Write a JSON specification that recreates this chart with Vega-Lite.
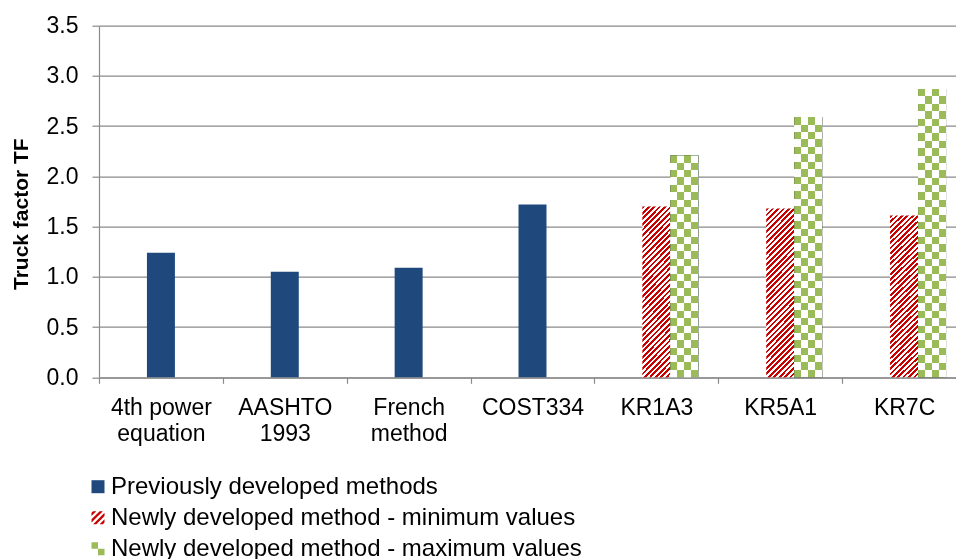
{
  "$schema": "https://vega.github.io/schema/vega-lite/v6.json",
  "width": 857,
  "height": 351.6,
  "autosize": "none",
  "padding": {"left": 99, "top": 25.7, "right": 0, "bottom": 181.7},
  "background": "white",
  "config": {
    "font": "Liberation Sans",
    "view": {"stroke": null},
    "axis": {"labelColor": "#000000", "titleColor": "#000000", "domainColor": "#8a8a8a", "tickColor": "#8a8a8a", "gridColor": "#8a8a8a", "gridWidth": 1.2, "domainWidth": 1.2, "tickWidth": 1.2},
    "legend": {
      "title": null,
      "orient": "none",
      "legendX": -13,
      "legendY": 449,
      "direction": "vertical",
      "padding": 0,
      "symbolSize": 169,
      "symbolOpacity": 1,
      "symbolStrokeWidth": 0,
      "labelFontSize": 24,
      "labelColor": "#000000",
      "labelOffset": 1,
      "labelLimit": 700,
      "rowPadding": 7
    }
  },
  "datasets": {
    "tf": [
      {"category": "4th power equation", "series": "Previously developed methods", "value": 1.24},
      {"category": "AASHTO 1993", "series": "Previously developed methods", "value": 1.05},
      {"category": "French method", "series": "Previously developed methods", "value": 1.09},
      {"category": "COST334", "series": "Previously developed methods", "value": 1.72},
      {"category": "KR1A3", "series": "Newly developed method - minimum values", "value": 1.70},
      {"category": "KR1A3", "series": "Newly developed method - maximum values", "value": 2.21},
      {"category": "KR5A1", "series": "Newly developed method - minimum values", "value": 1.68},
      {"category": "KR5A1", "series": "Newly developed method - maximum values", "value": 2.59},
      {"category": "KR7C", "series": "Newly developed method - minimum values", "value": 1.61},
      {"category": "KR7C", "series": "Newly developed method - maximum values", "value": 2.87}
    ]
  },
  "data": {"name": "tf"},
  "encoding": {
    "x": {
      "field": "category",
      "type": "nominal",
      "sort": null,
      "scale": {
        "domain": ["4th power equation", "AASHTO 1993", "French method", "COST334", "KR1A3", "KR5A1", "KR7C"],
        "range": [0, 867],
        "paddingInner": 0,
        "paddingOuter": 0
      },
      "axis": {
        "title": null,
        "labelAngle": 0,
        "labelFontSize": 23,
        "labelLineHeight": 26,
        "labelPadding": 13,
        "tickBand": "extent",
        "tickSize": 6,
        "grid": false,
        "labelExpr": "datum.label === '4th power equation' ? ['4th power', 'equation'] : datum.label === 'AASHTO 1993' ? ['AASHTO', '1993'] : datum.label === 'French method' ? ['French', 'method'] : datum.label"
      }
    },
    "y": {
      "field": "value",
      "type": "quantitative",
      "scale": {"domain": [0, 3.5], "nice": false},
      "axis": {
        "title": "Truck factor TF",
        "titleFontSize": 21,
        "titleFontWeight": "bold",
        "titlePadding": 15,
        "titleY": 188,
        "values": [0, 0.5, 1, 1.5, 2, 2.5, 3, 3.5],
        "format": ".1f",
        "labelFontSize": 23,
        "labelPadding": 14,
        "tickSize": 7,
        "grid": true
      }
    }
  },
  "layer": [
    {
      "transform": [{"filter": "datum.series === 'Previously developed methods'"}],
      "mark": {"type": "bar", "width": {"band": 0.226}},
      "encoding": {
        "color": {
          "field": "series",
          "type": "nominal",
          "scale": {
            "domain": ["Previously developed methods", "Newly developed method - minimum values", "Newly developed method - maximum values"],
            "range": ["#1F497D", "#C80000", "#9BBB59"]
          }
        }
      }
    },
    {
      "transform": [{"filter": "datum.series === 'Newly developed method - minimum values'"}],
      "mark": {
        "type": "bar",
        "width": {"band": 0.226},
        "fill": {
          "gradient": "linear", "x1": 0, "y1": 0, "x2": 0.19, "y2": 1.136,
          "stops": [
            {"offset": 0, "color": "#C80000"},
            {"offset": 0.0139, "color": "#C80000"}, {"offset": 0.0139, "color": "#FFFFFF"},
            {"offset": 0.0278, "color": "#FFFFFF"}, {"offset": 0.0278, "color": "#C80000"},
            {"offset": 0.0417, "color": "#C80000"}, {"offset": 0.0417, "color": "#FFFFFF"},
            {"offset": 0.0556, "color": "#FFFFFF"}, {"offset": 0.0556, "color": "#C80000"},
            {"offset": 0.0694, "color": "#C80000"}, {"offset": 0.0694, "color": "#FFFFFF"},
            {"offset": 0.0833, "color": "#FFFFFF"}, {"offset": 0.0833, "color": "#C80000"},
            {"offset": 0.0972, "color": "#C80000"}, {"offset": 0.0972, "color": "#FFFFFF"},
            {"offset": 0.1111, "color": "#FFFFFF"}, {"offset": 0.1111, "color": "#C80000"},
            {"offset": 0.125, "color": "#C80000"}, {"offset": 0.125, "color": "#FFFFFF"},
            {"offset": 0.1389, "color": "#FFFFFF"}, {"offset": 0.1389, "color": "#C80000"},
            {"offset": 0.1528, "color": "#C80000"}, {"offset": 0.1528, "color": "#FFFFFF"},
            {"offset": 0.1667, "color": "#FFFFFF"}, {"offset": 0.1667, "color": "#C80000"},
            {"offset": 0.1806, "color": "#C80000"}, {"offset": 0.1806, "color": "#FFFFFF"},
            {"offset": 0.1944, "color": "#FFFFFF"}, {"offset": 0.1944, "color": "#C80000"},
            {"offset": 0.2083, "color": "#C80000"}, {"offset": 0.2083, "color": "#FFFFFF"},
            {"offset": 0.2222, "color": "#FFFFFF"}, {"offset": 0.2222, "color": "#C80000"},
            {"offset": 0.2361, "color": "#C80000"}, {"offset": 0.2361, "color": "#FFFFFF"},
            {"offset": 0.25, "color": "#FFFFFF"}, {"offset": 0.25, "color": "#C80000"},
            {"offset": 0.2639, "color": "#C80000"}, {"offset": 0.2639, "color": "#FFFFFF"},
            {"offset": 0.2778, "color": "#FFFFFF"}, {"offset": 0.2778, "color": "#C80000"},
            {"offset": 0.2917, "color": "#C80000"}, {"offset": 0.2917, "color": "#FFFFFF"},
            {"offset": 0.3056, "color": "#FFFFFF"}, {"offset": 0.3056, "color": "#C80000"},
            {"offset": 0.3194, "color": "#C80000"}, {"offset": 0.3194, "color": "#FFFFFF"},
            {"offset": 0.3333, "color": "#FFFFFF"}, {"offset": 0.3333, "color": "#C80000"},
            {"offset": 0.3472, "color": "#C80000"}, {"offset": 0.3472, "color": "#FFFFFF"},
            {"offset": 0.3611, "color": "#FFFFFF"}, {"offset": 0.3611, "color": "#C80000"},
            {"offset": 0.375, "color": "#C80000"}, {"offset": 0.375, "color": "#FFFFFF"},
            {"offset": 0.3889, "color": "#FFFFFF"}, {"offset": 0.3889, "color": "#C80000"},
            {"offset": 0.4028, "color": "#C80000"}, {"offset": 0.4028, "color": "#FFFFFF"},
            {"offset": 0.4167, "color": "#FFFFFF"}, {"offset": 0.4167, "color": "#C80000"},
            {"offset": 0.4306, "color": "#C80000"}, {"offset": 0.4306, "color": "#FFFFFF"},
            {"offset": 0.4444, "color": "#FFFFFF"}, {"offset": 0.4444, "color": "#C80000"},
            {"offset": 0.4583, "color": "#C80000"}, {"offset": 0.4583, "color": "#FFFFFF"},
            {"offset": 0.4722, "color": "#FFFFFF"}, {"offset": 0.4722, "color": "#C80000"},
            {"offset": 0.4861, "color": "#C80000"}, {"offset": 0.4861, "color": "#FFFFFF"},
            {"offset": 0.5, "color": "#FFFFFF"}, {"offset": 0.5, "color": "#C80000"},
            {"offset": 0.5139, "color": "#C80000"}, {"offset": 0.5139, "color": "#FFFFFF"},
            {"offset": 0.5278, "color": "#FFFFFF"}, {"offset": 0.5278, "color": "#C80000"},
            {"offset": 0.5417, "color": "#C80000"}, {"offset": 0.5417, "color": "#FFFFFF"},
            {"offset": 0.5556, "color": "#FFFFFF"}, {"offset": 0.5556, "color": "#C80000"},
            {"offset": 0.5694, "color": "#C80000"}, {"offset": 0.5694, "color": "#FFFFFF"},
            {"offset": 0.5833, "color": "#FFFFFF"}, {"offset": 0.5833, "color": "#C80000"},
            {"offset": 0.5972, "color": "#C80000"}, {"offset": 0.5972, "color": "#FFFFFF"},
            {"offset": 0.6111, "color": "#FFFFFF"}, {"offset": 0.6111, "color": "#C80000"},
            {"offset": 0.625, "color": "#C80000"}, {"offset": 0.625, "color": "#FFFFFF"},
            {"offset": 0.6389, "color": "#FFFFFF"}, {"offset": 0.6389, "color": "#C80000"},
            {"offset": 0.6528, "color": "#C80000"}, {"offset": 0.6528, "color": "#FFFFFF"},
            {"offset": 0.6667, "color": "#FFFFFF"}, {"offset": 0.6667, "color": "#C80000"},
            {"offset": 0.6806, "color": "#C80000"}, {"offset": 0.6806, "color": "#FFFFFF"},
            {"offset": 0.6944, "color": "#FFFFFF"}, {"offset": 0.6944, "color": "#C80000"},
            {"offset": 0.7083, "color": "#C80000"}, {"offset": 0.7083, "color": "#FFFFFF"},
            {"offset": 0.7222, "color": "#FFFFFF"}, {"offset": 0.7222, "color": "#C80000"},
            {"offset": 0.7361, "color": "#C80000"}, {"offset": 0.7361, "color": "#FFFFFF"},
            {"offset": 0.75, "color": "#FFFFFF"}, {"offset": 0.75, "color": "#C80000"},
            {"offset": 0.7639, "color": "#C80000"}, {"offset": 0.7639, "color": "#FFFFFF"},
            {"offset": 0.7778, "color": "#FFFFFF"}, {"offset": 0.7778, "color": "#C80000"},
            {"offset": 0.7917, "color": "#C80000"}, {"offset": 0.7917, "color": "#FFFFFF"},
            {"offset": 0.8056, "color": "#FFFFFF"}, {"offset": 0.8056, "color": "#C80000"},
            {"offset": 0.8194, "color": "#C80000"}, {"offset": 0.8194, "color": "#FFFFFF"},
            {"offset": 0.8333, "color": "#FFFFFF"}, {"offset": 0.8333, "color": "#C80000"},
            {"offset": 0.8472, "color": "#C80000"}, {"offset": 0.8472, "color": "#FFFFFF"},
            {"offset": 0.8611, "color": "#FFFFFF"}, {"offset": 0.8611, "color": "#C80000"},
            {"offset": 0.875, "color": "#C80000"}, {"offset": 0.875, "color": "#FFFFFF"},
            {"offset": 0.8889, "color": "#FFFFFF"}, {"offset": 0.8889, "color": "#C80000"},
            {"offset": 0.9028, "color": "#C80000"}, {"offset": 0.9028, "color": "#FFFFFF"},
            {"offset": 0.9167, "color": "#FFFFFF"}, {"offset": 0.9167, "color": "#C80000"},
            {"offset": 0.9306, "color": "#C80000"}, {"offset": 0.9306, "color": "#FFFFFF"},
            {"offset": 0.9444, "color": "#FFFFFF"}, {"offset": 0.9444, "color": "#C80000"},
            {"offset": 0.9583, "color": "#C80000"}, {"offset": 0.9583, "color": "#FFFFFF"},
            {"offset": 0.9722, "color": "#FFFFFF"}, {"offset": 0.9722, "color": "#C80000"},
            {"offset": 0.9861, "color": "#C80000"}, {"offset": 0.9861, "color": "#FFFFFF"},
            {"offset": 1, "color": "#FFFFFF"}
          ]
        }
      }
    },
    {
      "transform": [{"filter": "datum.category === 'KR1A3' && datum.series === 'Newly developed method - maximum values'"}],
      "mark": {
        "type": "bar",
        "fill": {
          "gradient": "linear", "x1": 0, "y1": 0, "x2": 0, "y2": 1,
          "stops": [
            {"offset": 0, "color": "#000000"},
            {"offset": 0.0333, "color": "#000000"}, {"offset": 0.0333, "color": "#FFFFFF"},
            {"offset": 0.0667, "color": "#FFFFFF"}, {"offset": 0.0667, "color": "#000000"},
            {"offset": 0.1, "color": "#000000"}, {"offset": 0.1, "color": "#FFFFFF"},
            {"offset": 0.1333, "color": "#FFFFFF"}, {"offset": 0.1333, "color": "#000000"},
            {"offset": 0.1667, "color": "#000000"}, {"offset": 0.1667, "color": "#FFFFFF"},
            {"offset": 0.2, "color": "#FFFFFF"}, {"offset": 0.2, "color": "#000000"},
            {"offset": 0.2333, "color": "#000000"}, {"offset": 0.2333, "color": "#FFFFFF"},
            {"offset": 0.2667, "color": "#FFFFFF"}, {"offset": 0.2667, "color": "#000000"},
            {"offset": 0.3, "color": "#000000"}, {"offset": 0.3, "color": "#FFFFFF"},
            {"offset": 0.3333, "color": "#FFFFFF"}, {"offset": 0.3333, "color": "#000000"},
            {"offset": 0.3667, "color": "#000000"}, {"offset": 0.3667, "color": "#FFFFFF"},
            {"offset": 0.4, "color": "#FFFFFF"}, {"offset": 0.4, "color": "#000000"},
            {"offset": 0.4333, "color": "#000000"}, {"offset": 0.4333, "color": "#FFFFFF"},
            {"offset": 0.4667, "color": "#FFFFFF"}, {"offset": 0.4667, "color": "#000000"},
            {"offset": 0.5, "color": "#000000"}, {"offset": 0.5, "color": "#FFFFFF"},
            {"offset": 0.5333, "color": "#FFFFFF"}, {"offset": 0.5333, "color": "#000000"},
            {"offset": 0.5667, "color": "#000000"}, {"offset": 0.5667, "color": "#FFFFFF"},
            {"offset": 0.6, "color": "#FFFFFF"}, {"offset": 0.6, "color": "#000000"},
            {"offset": 0.6333, "color": "#000000"}, {"offset": 0.6333, "color": "#FFFFFF"},
            {"offset": 0.6667, "color": "#FFFFFF"}, {"offset": 0.6667, "color": "#000000"},
            {"offset": 0.7, "color": "#000000"}, {"offset": 0.7, "color": "#FFFFFF"},
            {"offset": 0.7333, "color": "#FFFFFF"}, {"offset": 0.7333, "color": "#000000"},
            {"offset": 0.7667, "color": "#000000"}, {"offset": 0.7667, "color": "#FFFFFF"},
            {"offset": 0.8, "color": "#FFFFFF"}, {"offset": 0.8, "color": "#000000"},
            {"offset": 0.8333, "color": "#000000"}, {"offset": 0.8333, "color": "#FFFFFF"},
            {"offset": 0.8667, "color": "#FFFFFF"}, {"offset": 0.8667, "color": "#000000"},
            {"offset": 0.9, "color": "#000000"}, {"offset": 0.9, "color": "#FFFFFF"},
            {"offset": 0.9333, "color": "#FFFFFF"}, {"offset": 0.9333, "color": "#000000"},
            {"offset": 0.9667, "color": "#000000"}, {"offset": 0.9667, "color": "#FFFFFF"},
            {"offset": 1, "color": "#FFFFFF"}
          ]
        }
      },
      "encoding": {
        "xOffset": {"field": "series", "type": "nominal", "scale": {"domain": ["Newly developed method - maximum values"], "paddingInner": 0.416, "paddingOuter": 1, "align": 0.792}}
      }
    },
    {
      "transform": [{"filter": "datum.category === 'KR5A1' && datum.series === 'Newly developed method - maximum values'"}],
      "mark": {
        "type": "bar",
        "fill": {
          "gradient": "linear", "x1": 0, "y1": 0, "x2": 0, "y2": 1,
          "stops": [
            {"offset": 0, "color": "#000000"},
            {"offset": 0.0286, "color": "#000000"}, {"offset": 0.0286, "color": "#FFFFFF"},
            {"offset": 0.0571, "color": "#FFFFFF"}, {"offset": 0.0571, "color": "#000000"},
            {"offset": 0.0857, "color": "#000000"}, {"offset": 0.0857, "color": "#FFFFFF"},
            {"offset": 0.1143, "color": "#FFFFFF"}, {"offset": 0.1143, "color": "#000000"},
            {"offset": 0.1429, "color": "#000000"}, {"offset": 0.1429, "color": "#FFFFFF"},
            {"offset": 0.1714, "color": "#FFFFFF"}, {"offset": 0.1714, "color": "#000000"},
            {"offset": 0.2, "color": "#000000"}, {"offset": 0.2, "color": "#FFFFFF"},
            {"offset": 0.2286, "color": "#FFFFFF"}, {"offset": 0.2286, "color": "#000000"},
            {"offset": 0.2571, "color": "#000000"}, {"offset": 0.2571, "color": "#FFFFFF"},
            {"offset": 0.2857, "color": "#FFFFFF"}, {"offset": 0.2857, "color": "#000000"},
            {"offset": 0.3143, "color": "#000000"}, {"offset": 0.3143, "color": "#FFFFFF"},
            {"offset": 0.3429, "color": "#FFFFFF"}, {"offset": 0.3429, "color": "#000000"},
            {"offset": 0.3714, "color": "#000000"}, {"offset": 0.3714, "color": "#FFFFFF"},
            {"offset": 0.4, "color": "#FFFFFF"}, {"offset": 0.4, "color": "#000000"},
            {"offset": 0.4286, "color": "#000000"}, {"offset": 0.4286, "color": "#FFFFFF"},
            {"offset": 0.4571, "color": "#FFFFFF"}, {"offset": 0.4571, "color": "#000000"},
            {"offset": 0.4857, "color": "#000000"}, {"offset": 0.4857, "color": "#FFFFFF"},
            {"offset": 0.5143, "color": "#FFFFFF"}, {"offset": 0.5143, "color": "#000000"},
            {"offset": 0.5429, "color": "#000000"}, {"offset": 0.5429, "color": "#FFFFFF"},
            {"offset": 0.5714, "color": "#FFFFFF"}, {"offset": 0.5714, "color": "#000000"},
            {"offset": 0.6, "color": "#000000"}, {"offset": 0.6, "color": "#FFFFFF"},
            {"offset": 0.6286, "color": "#FFFFFF"}, {"offset": 0.6286, "color": "#000000"},
            {"offset": 0.6571, "color": "#000000"}, {"offset": 0.6571, "color": "#FFFFFF"},
            {"offset": 0.6857, "color": "#FFFFFF"}, {"offset": 0.6857, "color": "#000000"},
            {"offset": 0.7143, "color": "#000000"}, {"offset": 0.7143, "color": "#FFFFFF"},
            {"offset": 0.7429, "color": "#FFFFFF"}, {"offset": 0.7429, "color": "#000000"},
            {"offset": 0.7714, "color": "#000000"}, {"offset": 0.7714, "color": "#FFFFFF"},
            {"offset": 0.8, "color": "#FFFFFF"}, {"offset": 0.8, "color": "#000000"},
            {"offset": 0.8286, "color": "#000000"}, {"offset": 0.8286, "color": "#FFFFFF"},
            {"offset": 0.8571, "color": "#FFFFFF"}, {"offset": 0.8571, "color": "#000000"},
            {"offset": 0.8857, "color": "#000000"}, {"offset": 0.8857, "color": "#FFFFFF"},
            {"offset": 0.9143, "color": "#FFFFFF"}, {"offset": 0.9143, "color": "#000000"},
            {"offset": 0.9429, "color": "#000000"}, {"offset": 0.9429, "color": "#FFFFFF"},
            {"offset": 0.9714, "color": "#FFFFFF"}, {"offset": 0.9714, "color": "#000000"},
            {"offset": 1, "color": "#000000"}
          ]
        }
      },
      "encoding": {
        "xOffset": {"field": "series", "type": "nominal", "scale": {"domain": ["Newly developed method - maximum values"], "paddingInner": 0.416, "paddingOuter": 1, "align": 0.792}}
      }
    },
    {
      "transform": [{"filter": "datum.category === 'KR7C' && datum.series === 'Newly developed method - maximum values'"}],
      "mark": {
        "type": "bar",
        "fill": {
          "gradient": "linear", "x1": 0, "y1": 0, "x2": 0, "y2": 1,
          "stops": [
            {"offset": 0, "color": "#000000"},
            {"offset": 0.0256, "color": "#000000"}, {"offset": 0.0256, "color": "#FFFFFF"},
            {"offset": 0.0513, "color": "#FFFFFF"}, {"offset": 0.0513, "color": "#000000"},
            {"offset": 0.0769, "color": "#000000"}, {"offset": 0.0769, "color": "#FFFFFF"},
            {"offset": 0.1026, "color": "#FFFFFF"}, {"offset": 0.1026, "color": "#000000"},
            {"offset": 0.1282, "color": "#000000"}, {"offset": 0.1282, "color": "#FFFFFF"},
            {"offset": 0.1538, "color": "#FFFFFF"}, {"offset": 0.1538, "color": "#000000"},
            {"offset": 0.1795, "color": "#000000"}, {"offset": 0.1795, "color": "#FFFFFF"},
            {"offset": 0.2051, "color": "#FFFFFF"}, {"offset": 0.2051, "color": "#000000"},
            {"offset": 0.2308, "color": "#000000"}, {"offset": 0.2308, "color": "#FFFFFF"},
            {"offset": 0.2564, "color": "#FFFFFF"}, {"offset": 0.2564, "color": "#000000"},
            {"offset": 0.2821, "color": "#000000"}, {"offset": 0.2821, "color": "#FFFFFF"},
            {"offset": 0.3077, "color": "#FFFFFF"}, {"offset": 0.3077, "color": "#000000"},
            {"offset": 0.3333, "color": "#000000"}, {"offset": 0.3333, "color": "#FFFFFF"},
            {"offset": 0.359, "color": "#FFFFFF"}, {"offset": 0.359, "color": "#000000"},
            {"offset": 0.3846, "color": "#000000"}, {"offset": 0.3846, "color": "#FFFFFF"},
            {"offset": 0.4103, "color": "#FFFFFF"}, {"offset": 0.4103, "color": "#000000"},
            {"offset": 0.4359, "color": "#000000"}, {"offset": 0.4359, "color": "#FFFFFF"},
            {"offset": 0.4615, "color": "#FFFFFF"}, {"offset": 0.4615, "color": "#000000"},
            {"offset": 0.4872, "color": "#000000"}, {"offset": 0.4872, "color": "#FFFFFF"},
            {"offset": 0.5128, "color": "#FFFFFF"}, {"offset": 0.5128, "color": "#000000"},
            {"offset": 0.5385, "color": "#000000"}, {"offset": 0.5385, "color": "#FFFFFF"},
            {"offset": 0.5641, "color": "#FFFFFF"}, {"offset": 0.5641, "color": "#000000"},
            {"offset": 0.5897, "color": "#000000"}, {"offset": 0.5897, "color": "#FFFFFF"},
            {"offset": 0.6154, "color": "#FFFFFF"}, {"offset": 0.6154, "color": "#000000"},
            {"offset": 0.641, "color": "#000000"}, {"offset": 0.641, "color": "#FFFFFF"},
            {"offset": 0.6667, "color": "#FFFFFF"}, {"offset": 0.6667, "color": "#000000"},
            {"offset": 0.6923, "color": "#000000"}, {"offset": 0.6923, "color": "#FFFFFF"},
            {"offset": 0.7179, "color": "#FFFFFF"}, {"offset": 0.7179, "color": "#000000"},
            {"offset": 0.7436, "color": "#000000"}, {"offset": 0.7436, "color": "#FFFFFF"},
            {"offset": 0.7692, "color": "#FFFFFF"}, {"offset": 0.7692, "color": "#000000"},
            {"offset": 0.7949, "color": "#000000"}, {"offset": 0.7949, "color": "#FFFFFF"},
            {"offset": 0.8205, "color": "#FFFFFF"}, {"offset": 0.8205, "color": "#000000"},
            {"offset": 0.8462, "color": "#000000"}, {"offset": 0.8462, "color": "#FFFFFF"},
            {"offset": 0.8718, "color": "#FFFFFF"}, {"offset": 0.8718, "color": "#000000"},
            {"offset": 0.8974, "color": "#000000"}, {"offset": 0.8974, "color": "#FFFFFF"},
            {"offset": 0.9231, "color": "#FFFFFF"}, {"offset": 0.9231, "color": "#000000"},
            {"offset": 0.9487, "color": "#000000"}, {"offset": 0.9487, "color": "#FFFFFF"},
            {"offset": 0.9744, "color": "#FFFFFF"}, {"offset": 0.9744, "color": "#000000"},
            {"offset": 1, "color": "#000000"}
          ]
        }
      },
      "encoding": {
        "xOffset": {"field": "series", "type": "nominal", "scale": {"domain": ["Newly developed method - maximum values"], "paddingInner": 0.416, "paddingOuter": 1, "align": 0.792}}
      }
    },
    {
      "transform": [{"filter": "datum.series === 'Newly developed method - maximum values'"}],
      "mark": {
        "type": "bar",
        "blend": "difference",
        "fill": {
          "gradient": "linear", "x1": 0, "y1": 0, "x2": 1, "y2": 0,
          "stops": [
            {"offset": 0, "color": "#000000"}, {"offset": 0.25, "color": "#000000"},
            {"offset": 0.25, "color": "#FFFFFF"}, {"offset": 0.5, "color": "#FFFFFF"},
            {"offset": 0.5, "color": "#000000"}, {"offset": 0.75, "color": "#000000"},
            {"offset": 0.75, "color": "#FFFFFF"}, {"offset": 1, "color": "#FFFFFF"}
          ]
        }
      },
      "encoding": {
        "xOffset": {"field": "series", "type": "nominal", "scale": {"domain": ["Newly developed method - maximum values"], "paddingInner": 0.416, "paddingOuter": 1, "align": 0.792}}
      }
    },
    {
      "transform": [{"filter": "datum.series === 'Newly developed method - maximum values'"}],
      "mark": {"type": "bar", "blend": "lighten", "fill": "#9BBB59"},
      "encoding": {
        "xOffset": {"field": "series", "type": "nominal", "scale": {"domain": ["Newly developed method - maximum values"], "paddingInner": 0.416, "paddingOuter": 1, "align": 0.792}}
      }
    },
    {
      "mark": {"type": "point", "filled": true, "opacity": 0},
      "encoding": {
        "color": {"field": "series", "type": "nominal"},
        "shape": {
          "field": "series",
          "type": "nominal",
          "scale": {
            "domain": ["Previously developed methods", "Newly developed method - minimum values", "Newly developed method - maximum values"],
            "range": [
              "square",
              "M-1,-0.75L-0.75,-1L-0.25,-1L-1,-0.25ZM-1,0.25L0.25,-1L0.75,-1L-1,0.75ZM-0.75,1L1,-0.75L1,-0.25L-0.25,1ZM0.25,1L1,0.25L1,0.75L0.75,1Z",
              "M-1,-1H0V0H-1ZM0,0H1V1H0Z"
            ]
          }
        }
      }
    }
  ]
}
